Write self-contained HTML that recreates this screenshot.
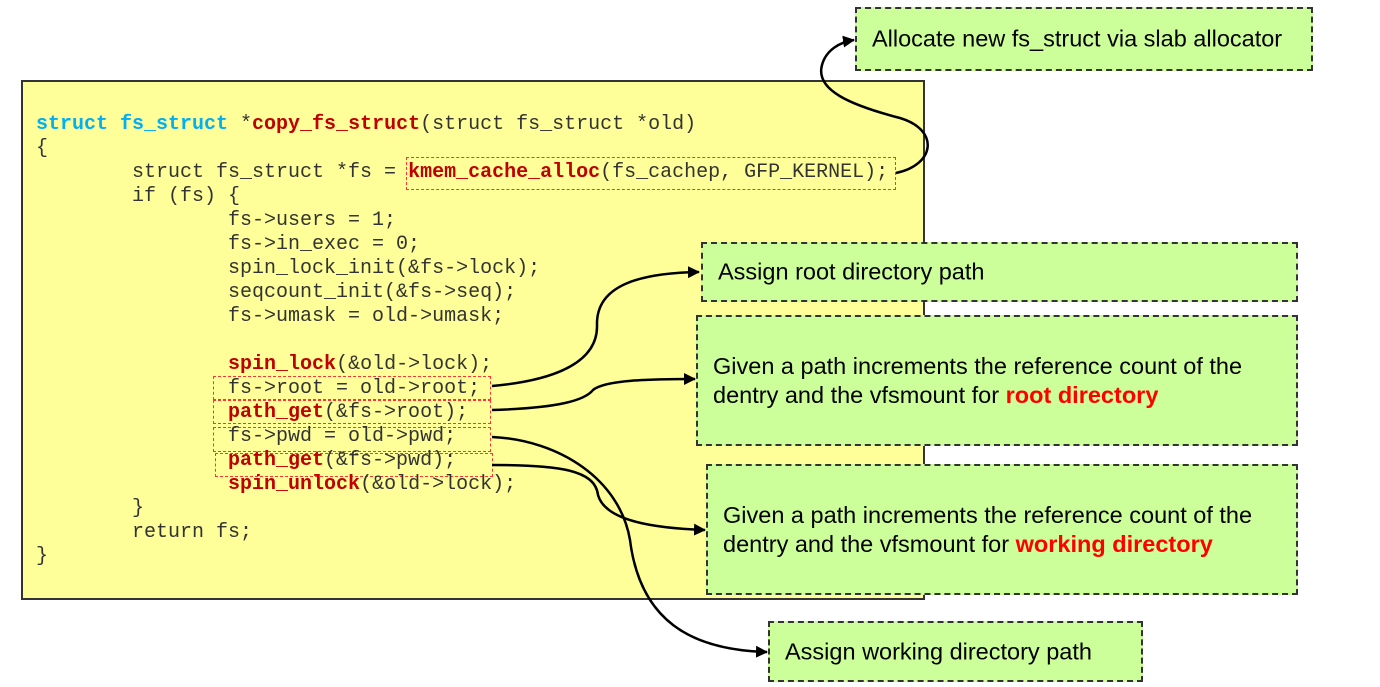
<!DOCTYPE html>
<html><head><meta charset="utf-8"><style>
body{margin:0;width:1380px;height:687px;background:#fff;position:relative;overflow:hidden;font-family:"Liberation Sans",sans-serif}
.y{position:absolute;left:21px;top:80px;width:900px;height:516px;background:#ffff99;border:2px solid #333}
.code{position:absolute;left:36px;top:113px;font-family:"Liberation Mono",monospace;font-size:20px;line-height:24px;color:#333;white-space:pre}
.b{color:#c00000;font-weight:bold}.c{color:#00b0f0;font-weight:bold}
.r{position:absolute;border:1.5px dashed #ff3333}
.g{position:absolute;background:#ccff99;border:2px dashed #333;box-sizing:border-box;font-size:23.5px;color:#000;padding-left:15px;line-height:29px}
.g b{color:#ff0000}
.g .t{position:absolute;left:15px;top:50%;transform:translateY(-50%);white-space:nowrap}
</style></head><body>
<div class="y"></div>
<div class="r" style="left:406px;top:157px;width:488px;height:31px"></div>
<div class="r" style="left:213px;top:376px;width:276px;height:22px"></div>
<div class="r" style="left:213px;top:400px;width:276px;height:22px"></div>
<div class="r" style="left:213px;top:427px;width:276px;height:23px"></div>
<div class="r" style="left:215px;top:453px;width:276px;height:22px"></div>
<div class="code"><span class="c">struct fs_struct</span> *<span class="b">copy_fs_struct</span>(struct fs_struct *old)
{
        struct fs_struct *fs = <span class="b">kmem_cache_alloc</span>(fs_cachep, GFP_KERNEL);
        if (fs) {
                fs->users = 1;
                fs->in_exec = 0;
                spin_lock_init(&amp;fs->lock);
                seqcount_init(&amp;fs->seq);
                fs->umask = old->umask;

                <span class="b">spin_lock</span>(&amp;old->lock);
                fs->root = old->root;
                <span class="b">path_get</span>(&amp;fs->root);
                fs->pwd = old->pwd;
                <span class="b">path_get</span>(&amp;fs->pwd);
                <span class="b">spin_unlock</span>(&amp;old->lock);
        }
        return fs;
}</div>
<div class="g" style="left:855px;top:7px;width:458px;height:64px"><span class="t">Allocate new fs_struct via slab allocator</span></div>
<div class="g" style="left:701px;top:242px;width:597px;height:60px"><span class="t">Assign root directory path</span></div>
<div class="g" style="left:696px;top:315px;width:602px;height:131px"><span class="t">Given a path increments the reference count of the<br>dentry and the vfsmount for <b>root directory</b></span></div>
<div class="g" style="left:706px;top:464px;width:592px;height:131px"><span class="t">Given a path increments the reference count of the<br>dentry and the vfsmount for <b>working directory</b></span></div>
<div class="g" style="left:768px;top:621px;width:375px;height:61px"><span class="t">Assign working directory path</span></div>
<svg style="position:absolute;left:0;top:0" width="1380" height="687">
<defs><marker id="a" markerWidth="12" markerHeight="12" refX="11" refY="6" orient="auto" markerUnits="userSpaceOnUse"><path d="M0,0 L12,6 L0,12z" fill="#000"/></marker></defs>
<g fill="none" stroke="#000" stroke-width="2.5" marker-end="url(#a)">
<path d="M896,173 C935,165 940,130 900,118 C850,105 815,90 822,65 C826,50 840,42 854,40"/>
<path d="M492,386 C560,380 598,360 597,325 C596,285 640,273 699,272"/>
<path d="M492,410 C560,408 585,400 593,390 C605,380 650,379 695,379"/>
<path d="M492,437 C560,440 620,480 630,540 C640,620 690,650 767,652"/>
<path d="M492,465 C560,465 595,470 598,495 C605,520 650,528 705,530"/>
</g></svg>
</body></html>
